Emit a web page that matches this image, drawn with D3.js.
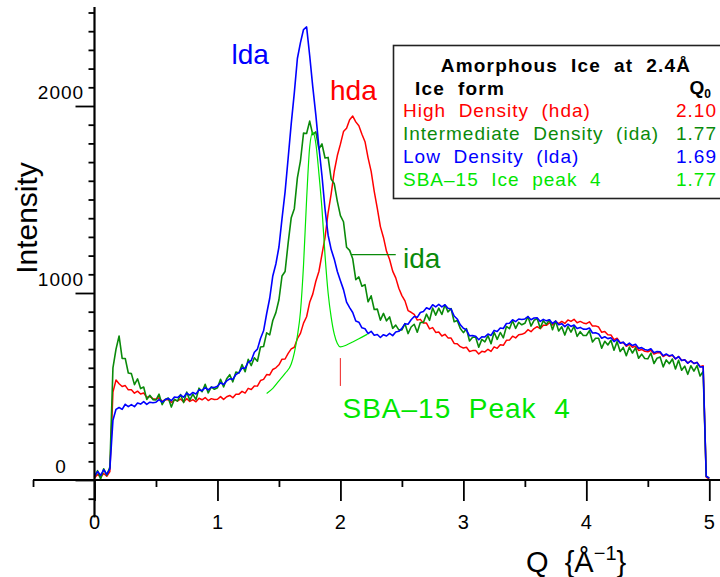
<!DOCTYPE html>
<html><head><meta charset="utf-8">
<script src="https://cdn.jsdelivr.net/npm/d3@7"></script>
<style>
html,body{margin:0;padding:0;background:#fff;}
svg{display:block;font-family:"Liberation Sans",Arial,Helvetica,sans-serif;}
text{white-space:pre;}
</style></head>
<body><svg id="c" width="720" height="577"></svg>
<script>
// ---------------- DATA ----------------
// Q sampling grid step for the three measured curves (0 .. 5.0 Å^-1)
const qStep = 0.025;
// Low density amorphous ice (lda), blue
const ldaValues = [
 20,45,25,55,30,60,320,378,388,378,
 405,392,403,392,412,406,419,404,416,413,
 416,430,416,430,436,424,444,441,454,443,
 465,454,468,460,482,478,494,482,496,495,
 501,520,511,530,541,538,564,574,599,598,
 630,639,683,700,757,798,889,972,1091,1155,
 1246,1398,1541,1722,1906,2070,2254,2339,2409,2423,
 2270,2104,1953,1780,1627,1448,1309,1232,1181,1115,
 1066,1018,951,922,896,850,844,814,809,783,
 795,774,778,762,777,770,784,772,791,795,
 811,836,833,857,874,870,896,901,921,913,
 937,926,939,926,937,918,914,877,861,830,
 811,803,771,772,769,750,766,765,781,773,
 800,794,813,810,837,838,857,847,861,858,
 861,874,857,866,868,848,859,851,857,837,
 850,830,836,820,833,821,829,810,816,807,
 806,813,786,787,781,758,766,756,761,740,
 752,732,737,720,732,719,726,704,708,698,
 694,702,681,687,686,665,674,664,669,648,
 660,639,643,625,637,623,629,604,606,20,
 10];
// High density amorphous ice (hda), red
const hdaValues = [
 10,30,15,35,20,45,470,535,515,500,
 505,482,483,464,475,460,465,442,446,435,
 432,440,420,429,431,414,428,423,433,417,
 435,420,430,418,437,429,441,425,435,430,
 432,446,431,445,452,440,459,459,474,465,
 490,484,503,502,532,538,564,562,591,600,
 616,646,647,677,701,710,756,784,839,873,
 950,994,1063,1115,1207,1298,1429,1532,1651,1735,
 1796,1863,1881,1927,1946,1915,1894,1849,1809,1723,
 1650,1544,1453,1355,1297,1223,1179,1117,1081,1025,
 986,958,906,897,886,855,859,839,839,808,
 815,789,791,770,779,760,759,730,729,713,
 706,710,687,692,692,674,688,685,699,688,
 712,704,723,720,747,748,769,760,777,779,
 786,804,793,810,820,809,828,827,841,829,
 849,836,848,837,856,848,859,841,848,840,
 836,846,823,824,818,790,794,777,776,750,
 758,734,735,715,725,710,715,693,698,688,
 686,694,673,680,680,660,670,661,667,647,
 660,639,643,625,637,623,629,606,611,15,
 5];
// Intermediate density amorphous ice (ida), dark green
const idaValues = [
 15,50,5,60,25,70,600,700,770,650,
 650,572,569,510,541,489,497,431,453,430,
 428,459,403,431,438,390,432,422,457,414,
 470,427,459,430,491,472,512,466,498,485,
 493,539,498,541,563,525,577,572,617,579,
 645,612,654,635,711,714,787,776,853,895,
 964,1091,1115,1268,1403,1451,1616,1706,1855,1853,
 1919,1847,1862,1771,1797,1722,1725,1609,1584,1490,
 1414,1381,1245,1228,1183,1071,1086,1036,1045,953,
 985,912,914,855,891,851,872,811,828,803,
 803,836,783,818,833,790,842,842,887,854,
 920,882,919,885,936,899,917,846,853,810,
 788,809,743,763,763,710,752,739,772,729,
 790,752,789,760,821,809,852,811,843,830,
 838,874,823,854,863,812,852,832,857,804,
 850,797,819,775,821,791,822,768,793,773,
 773,799,738,758,758,705,742,722,747,694,
 740,687,709,665,711,679,707,651,673,650,
 648,679,623,651,658,605,642,622,647,594,
 640,587,609,565,611,582,612,556,581,20,
 10];
// SBA-15 ice peak 4 (smooth fit), bright green
const sbaQ =      [1.40,1.45,1.50,1.55,1.60,1.625,1.65,1.675,1.70,1.725,1.75,1.775,1.80,1.825,1.85,1.875,1.90,1.925,1.95,1.975,2.00,2.05,2.10,2.15,2.22];
const sbaValues = [463, 490, 530, 570, 620, 680,  770, 900,  1150,1500, 1780,1860, 1800,1640, 1450,1200, 1000,870,  780, 730,  712, 722, 738, 755, 780];

// legend table
const legendNames  = ["High  Density  (hda)","Intermediate  Density  (ida)","Low  Density  (lda)","SBA\u201315  Ice  peak  4"];
const legendQ0     = ["2.10","1.77","1.69","1.77"];
const seriesColors = ["#ff0000","#0a8a0a","#0000ff","#00e600"];

// axis ticks
const xMajorTicks = [0,1,2,3,4,5];
const xMinorTicks = [-0.5,0.5,1.5,2.5,3.5,4.5];
const yMajorTicks = [0,1000,2000];
const yMinorTicks = d3.range(-100, 2501, 100).filter(v => v % 1000 !== 0);

// annotation anchors (data units)
const sbaMarker = {q: 2.0, from: 503, to: 652};
const idaLeader = {q0: 2.09, q1: 2.45, v: 1205};

// ---------------- DRAW ----------------
const svg = d3.select("#c");
const x = d3.scaleLinear().domain([0,5]).range([94.5,709.3]);
const y = d3.scaleLinear().domain([0,1000]).range([480,293]);

const qGrid = ldaValues.map((_, i) => +(i*qStep).toFixed(3));
const line = d3.line().x(d => x(d[0])).y(d => y(d[1]));

// curves
const series = [
  {vals: hdaValues, color: seriesColors[0], w: 1.5},
  {vals: idaValues, color: seriesColors[1], w: 1.6},
  {vals: ldaValues, color: seriesColors[2], w: 1.6}
];
series.forEach(s => {
  svg.append("path").datum(s.vals.map((v,i)=>[qGrid[i], v]))
    .attr("d", line).attr("fill","none").attr("stroke", s.color)
    .attr("stroke-width",s.w).attr("stroke-linejoin","round");
});
svg.append("path").datum(sbaValues.map((v,i)=>[sbaQ[i], v]))
  .attr("d", d3.line().curve(d3.curveMonotoneX).x(d=>x(d[0])).y(d=>y(d[1])))
  .attr("fill","none").attr("stroke", seriesColors[3]).attr("stroke-width",1.2);

// axes
const ax = svg.append("g").attr("stroke","#000").attr("fill","none");
ax.append("line").attr("x1", x(-0.5)).attr("x2", 720).attr("y1", y(0)).attr("y2", y(0)).attr("stroke-width",2.2);
ax.append("line").attr("x1", x(0)).attr("x2", x(0)).attr("y1", y(-200)).attr("y2", 7).attr("stroke-width",2.2);
const gx = svg.append("g").attr("transform",`translate(0,${y(0)})`);
gx.call(d3.axisBottom(x).tickValues(xMajorTicks).tickSize(21).tickFormat(""));
const gx2 = svg.append("g").attr("transform",`translate(0,${y(0)})`);
gx2.call(d3.axisBottom(x).tickValues(xMinorTicks).tickSize(7).tickFormat(""));
[gx,gx2].forEach(g=>{g.select(".domain").remove(); g.selectAll("line").attr("stroke-width",1.8);});
const gy = svg.append("g").attr("transform",`translate(${x(0)},0)`);
gy.call(d3.axisLeft(y).tickValues(yMajorTicks).tickSize(19).tickFormat(""));
const gy2 = svg.append("g").attr("transform",`translate(${x(0)},0)`);
gy2.call(d3.axisLeft(y).tickValues(yMinorTicks).tickSize(6).tickFormat(""));
[gy,gy2].forEach(g=>{g.select(".domain").remove(); g.selectAll("line").attr("stroke-width",1.8);});

// tick labels
svg.append("g").selectAll("text").data(xMajorTicks).join("text")
  .attr("x", d=>x(d)).attr("y", 529).attr("text-anchor","middle")
  .attr("font-size",20).attr("fill","#000").text(d=>d);
svg.append("g").selectAll("text").data(yMajorTicks).join("text")
  .attr("x", 61).attr("y", d=>y(d)-7).attr("text-anchor","middle")
  .attr("font-size",19).attr("letter-spacing","1px").attr("fill","#000").text(d=>d);

// axis titles
svg.append("text").attr("transform","translate(37,218) rotate(-90)")
  .attr("text-anchor","middle").attr("font-size",30).text("Intensity");
const qt = svg.append("text").attr("x",526).attr("y",572).attr("font-size",29);
qt.append("tspan").text("Q  {\u00C5");
qt.append("tspan").attr("font-size",20).attr("dy",-12).text("\u22121");
qt.append("tspan").attr("dy",12).text("}");

// legend box
svg.append("rect").attr("x",393.5).attr("y",45.5).attr("width",340).attr("height",153)
  .attr("fill","#fff").attr("stroke","#222").attr("stroke-width",1.6);
svg.append("text").attr("x",566).attr("y",72).attr("text-anchor","middle")
  .attr("font-size",19).attr("font-weight","bold").attr("letter-spacing","1.2px")
  .text("Amorphous  Ice  at  2.4\u00C5");
svg.append("text").attr("x",415).attr("y",95).attr("font-size",19).attr("font-weight","bold")
  .attr("letter-spacing","1.2px").text("Ice  form");
const q0 = svg.append("text").attr("x",711).attr("y",94).attr("text-anchor","end")
  .attr("font-size",19).attr("font-weight","bold");
q0.append("tspan").text("Q");
q0.append("tspan").attr("font-size",12).attr("dy",4).text("0");
legendNames.forEach((n,i)=>{
  const by = 117.3 + i*22.8;
  svg.append("text").attr("x",403).attr("y",by).attr("font-size",19).attr("letter-spacing","1px")
    .attr("fill",seriesColors[i]).text(n);
  svg.append("text").attr("x",717).attr("y",by).attr("text-anchor","end").attr("font-size",19)
    .attr("letter-spacing","1px").attr("fill",seriesColors[i]).text(legendQ0[i]);
});

// in-plot annotations
svg.append("text").attr("x",231.5).attr("y",64).attr("font-size",28).attr("fill",seriesColors[2]).text("lda");
svg.append("text").attr("x",330).attr("y",100).attr("font-size",28).attr("fill",seriesColors[0]).text("hda");
svg.append("text").attr("x",403).attr("y",268).attr("font-size",28).attr("fill",seriesColors[1]).text("ida");
svg.append("line").attr("x1",x(idaLeader.q0)).attr("x2",x(idaLeader.q1))
  .attr("y1",y(idaLeader.v)).attr("y2",y(idaLeader.v)).attr("stroke",seriesColors[1]).attr("stroke-width",1.2);
svg.append("text").attr("x",342.5).attr("y",418).attr("font-size",28).attr("letter-spacing","1px")
  .attr("fill",seriesColors[3]).text("SBA\u201315  Peak  4");
svg.append("line").attr("x1",x(sbaMarker.q)).attr("x2",x(sbaMarker.q))
  .attr("y1",y(sbaMarker.from)).attr("y2",y(sbaMarker.to)).attr("stroke","#f04040").attr("stroke-width",1.2);
</script></body></html>
